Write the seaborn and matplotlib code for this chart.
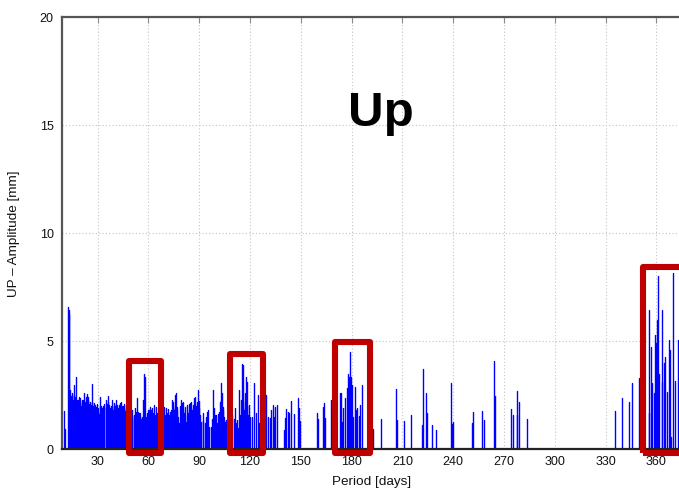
import numpy as np
import pandas as pd
import matplotlib
matplotlib.use("Agg")
import matplotlib.pyplot as plt
from matplotlib.patches import Rectangle
import seaborn as sns

# Spectral peaks of the Up component: period (days) and amplitude (mm)
periods = [
    10.1, 10.9, 12.3, 12.8, 13.3, 13.8, 14.2, 14.6, 15.0, 15.4, 15.8, 16.2, 16.6, 17.0, 17.4,
    17.8, 18.2, 18.6, 19.0, 19.4, 19.7, 20.1, 20.5, 20.9, 21.3, 21.7, 22.1, 22.5, 22.9, 23.3,
    23.7, 24.1, 24.5, 24.9, 25.3, 25.6, 26.0, 26.4, 26.8, 27.2, 27.6, 28.0, 28.4, 28.8, 29.2,
    29.6, 30.0, 30.4, 30.8, 31.2, 31.6, 32.0, 32.4, 32.8, 33.1, 33.5, 33.9, 34.7, 35.1, 35.5,
    35.9, 36.3, 36.7, 37.1, 37.5, 37.9, 38.3, 38.7, 39.0, 39.4, 39.8, 40.2, 40.6, 41.0, 41.4,
    41.8, 42.2, 42.6, 43.0, 43.4, 43.8, 44.2, 44.6, 45.0, 45.4, 45.7, 46.1, 46.5, 46.9, 47.3,
    47.7, 48.1, 48.5, 48.9, 49.3, 49.7, 50.1, 50.5, 51.3, 51.7, 52.0, 52.4, 52.8, 53.4, 54.0,
    54.4, 54.8, 55.2, 55.6, 56.4, 56.8, 57.2, 57.7, 58.3, 58.7, 59.1, 59.5, 60.3, 60.7, 61.1,
    61.5, 61.9, 62.3, 62.7, 63.4, 63.8, 64.3, 65.0, 65.5, 66.0, 66.5, 67.0, 67.5, 68.2, 68.8,
    69.4, 70.0, 70.3, 70.9, 71.3, 71.7, 72.3, 72.7, 73.1, 73.5, 73.9, 74.3, 74.7, 75.1, 75.5,
    75.9, 76.3, 76.7, 77.0, 77.6, 78.2, 78.6, 79.0, 79.4, 79.8, 80.2, 80.6, 81.0, 81.4, 82.2,
    82.5, 82.9, 83.4, 83.8, 84.1, 84.5, 84.9, 85.3, 85.7, 86.1, 86.5, 86.9, 87.3, 87.7, 88.1,
    88.5, 88.9, 89.3, 89.7, 90.0, 90.4, 90.8, 92.0, 92.4, 93.6, 94.0, 94.4, 94.8, 95.2, 95.9,
    97.1, 97.7, 98.3, 98.7, 99.1, 99.5, 99.9, 100.5, 101.1, 101.8, 102.3, 102.7, 103.1, 103.4,
    103.8, 104.2, 104.6, 105.0, 105.4, 105.8, 106.5, 107.5, 108.5, 109.5, 110.5, 111.1, 111.8,
    112.5, 113.0, 113.6, 114.1, 114.5, 114.9, 115.2, 115.6, 116.0, 116.4, 116.8, 117.2, 117.6,
    118.0, 118.4, 118.8, 119.2, 120.0, 121.1, 122.3, 123.5, 124.7, 125.5, 129.4, 130.5, 132.0,
    132.6, 133.4, 134.2, 134.9, 135.9, 140.2, 140.8, 141.4, 142.2, 143.0, 144.2, 146.2, 148.1,
    148.9, 149.7, 159.7, 160.3, 163.2, 163.8, 164.4, 168.0, 173.1, 173.5, 174.1, 175.1, 176.2,
    177.0, 177.6, 178.2, 178.8, 179.4, 180.0, 180.6, 181.8, 182.6, 183.4, 184.1, 184.9, 186.1,
    192.4, 197.3, 206.0, 206.6, 211.0, 214.8, 221.6, 222.0, 223.9, 224.6, 227.6, 229.6, 238.5,
    239.3, 240.1, 251.3, 251.5, 257.2, 258.5, 264.3, 265.0, 274.3, 275.1, 277.5, 277.9, 278.9,
    283.7, 335.6, 339.7, 343.7, 345.6, 349.6, 355.4, 355.6, 356.6, 357.4, 358.4, 359.0, 359.6,
    360.5, 361.1, 361.6, 363.1, 363.6, 364.5, 365.2, 366.4, 367.6, 368.2, 368.9, 369.8, 370.8,
    372.9,
]
amplitudes = [
    1.79, 0.93, 6.60, 6.45, 6.25, 2.75, 2.47, 2.60, 2.47, 2.30, 2.98, 2.50, 2.41, 2.20, 3.36,
    2.30, 2.28, 2.10, 2.41, 2.20, 2.36, 2.00, 2.13, 2.30, 2.28, 2.60, 2.05, 2.20, 2.41, 2.20,
    2.56, 2.30, 2.41, 2.10, 2.20, 1.90, 2.05, 2.20, 3.02, 2.00, 2.13, 1.90, 2.05, 1.80, 1.97,
    2.10, 1.90, 1.75, 1.64, 2.00, 2.44, 2.00, 1.90, 1.80, 2.00, 1.95, 2.10, 1.90, 2.28, 2.10,
    2.47, 2.20, 2.05, 1.90, 1.82, 2.00, 2.28, 2.00, 1.82, 1.95, 2.13, 2.00, 2.28, 2.10, 2.05,
    1.85, 1.90, 2.05, 2.13, 1.90, 2.20, 2.00, 1.97, 2.00, 2.10, 1.85, 1.79, 1.90, 2.05, 1.80,
    1.90, 1.70, 1.75, 1.80, 1.60, 1.70, 1.55, 1.82, 1.59, 1.40, 1.90, 1.70, 1.75, 2.36, 1.75,
    1.69, 1.50, 1.66, 1.40, 1.51, 2.28, 3.50, 3.35, 1.40, 1.51, 1.70, 1.82, 1.82, 1.60, 1.97,
    1.80, 1.90, 1.50, 1.66, 2.05, 1.60, 1.97, 1.66, 1.70, 1.50, 1.80, 1.60, 1.90, 1.80, 1.70,
    1.95, 1.60, 1.90, 1.70, 1.50, 1.85, 1.60, 1.75, 1.82, 1.50, 2.28, 1.90, 2.21, 1.80, 2.51,
    2.00, 2.59, 1.80, 1.97, 1.50, 1.20, 2.00, 2.28, 1.90, 2.16, 1.80, 2.21, 1.70, 1.97, 1.28,
    1.60, 2.05, 1.70, 2.10, 1.80, 2.13, 1.90, 2.21, 1.80, 2.05, 1.70, 2.36, 1.90, 2.44, 2.00,
    2.21, 1.80, 2.75, 1.90, 2.25, 1.60, 1.28, 1.67, 1.30, 1.20, 1.50, 1.74, 1.40, 1.82, 1.05,
    1.05, 1.40, 2.75, 1.90, 1.59, 1.30, 1.59, 1.20, 1.64, 1.74, 2.20, 3.05, 2.30, 2.59,
    1.80, 1.97, 1.50, 1.28, 1.00, 1.36, 1.20, 1.50, 1.30, 1.60, 1.40, 1.90, 1.20,
    1.36, 1.00, 2.75, 1.60, 2.28, 1.50, 3.95, 2.20, 3.90, 1.80, 2.59, 1.90, 3.33,
    2.00, 3.13, 1.60, 2.05, 1.51, 1.51, 3.05, 1.67, 2.51, 1.20, 2.50, 1.51, 1.43,
    1.82, 2.05, 1.51, 1.97, 2.05, 0.90, 1.43, 1.85, 1.74, 1.66, 2.23, 1.63, 2.38,
    1.90, 1.33, 1.70, 1.40, 1.97, 2.13, 1.43, 2.28, 2.60, 2.62, 1.28, 1.90, 2.36,
    2.82, 3.48, 3.36, 4.52, 3.36, 2.98, 1.51, 2.87, 1.82, 1.90, 1.54, 2.05, 2.97,
    0.95, 1.39, 2.78, 1.36, 1.32, 1.57, 1.13, 3.72, 2.62, 1.67, 1.13, 0.90, 3.08,
    1.17, 1.25, 1.23, 1.72, 1.78, 1.34, 4.10, 2.47, 1.85, 1.59, 1.60, 2.69, 2.17,
    1.42, 1.78, 2.38, 2.20, 3.06, 3.29, 6.45, 1.67, 4.72, 3.05, 2.60, 5.29, 4.90,
    5.98, 8.02, 3.50, 6.45, 3.13, 4.00, 4.29, 2.63, 5.06, 4.60, 0.58, 8.18, 3.15,
    5.06,
]

# Highlighted period bands (left, right, top) in data units
band_left = [48.7, 107.9, 170.2, 352.3]
band_right = [67.6, 127.5, 190.7, 400.0]
band_top = [4.07, 4.40, 4.98, 8.44]
band_bottom = -0.16

x_ticks = [30, 60, 90, 120, 150, 180, 210, 240, 270, 300, 330, 360]
y_ticks = [0, 5, 10, 15, 20]

sns.set_theme(style="white")
plt.rcParams["font.family"] = ["Liberation Sans", "DejaVu Sans"]

n = len(periods)
stems = pd.DataFrame({
    "period": np.repeat(periods, 2),
    "amplitude": np.column_stack([np.zeros(n), amplitudes]).ravel(),
    "peak": np.repeat(np.arange(n), 2),
})

fig = plt.figure(figsize=(6.79, 4.91), dpi=100)
ax = fig.add_axes([62 / 679, (491 - 449.3) / 491, (690 - 62) / 679, 432 / 491])

ax.grid(True, linestyle=(0, (1, 2)), color="#c4c4c4", linewidth=0.8)
ax.set_axisbelow(True)

sns.lineplot(data=stems, x="period", y="amplitude", units="peak", estimator=None,
             sort=False, color="#0000ff", linewidth=1.0, ax=ax, legend=False)

for x0, x1, top in zip(band_left, band_right, band_top):
    ax.add_patch(Rectangle((x0, band_bottom), x1 - x0, top - band_bottom, fill=False,
                           edgecolor="#bf0000", linewidth=4.4, joinstyle="round",
                           clip_on=False, zorder=6))

ax.set_xlim(8.92, 379.9)
ax.set_ylim(0, 20)
ax.set_xticks(x_ticks)
ax.set_yticks(y_ticks)
ax.tick_params(direction="in", length=4.5, width=0.8, color="#8a8a8a",
               labelsize=9, labelcolor="#111111", top=True, right=True)
ax.tick_params(axis="y", pad=6)
ax.tick_params(axis="x", pad=5)

for side, spine in ax.spines.items():
    spine.set_visible(True)
    spine.set_color("#222222" if side == "bottom" else "#555555")
    spine.set_linewidth(1.6)

ax.set_xlabel("Period [days]", fontsize=9.7, color="#111111")
ax.set_ylabel("UP \u2013 Amplitude [mm]", fontsize=9.7, color="#111111")
ax.xaxis.set_label_coords((371.7 - 62) / 628, -0.061)
ax.yaxis.set_label_coords((20 - 62) / 628, 0.5)

ax.text((381.3 - 62) / 628, (449.3 - 126) / 432, "Up", transform=ax.transAxes,
        ha="center", va="baseline", fontsize=35.5, fontweight="bold", color="black",
        zorder=7)

fig.savefig("out.png", dpi=100)
